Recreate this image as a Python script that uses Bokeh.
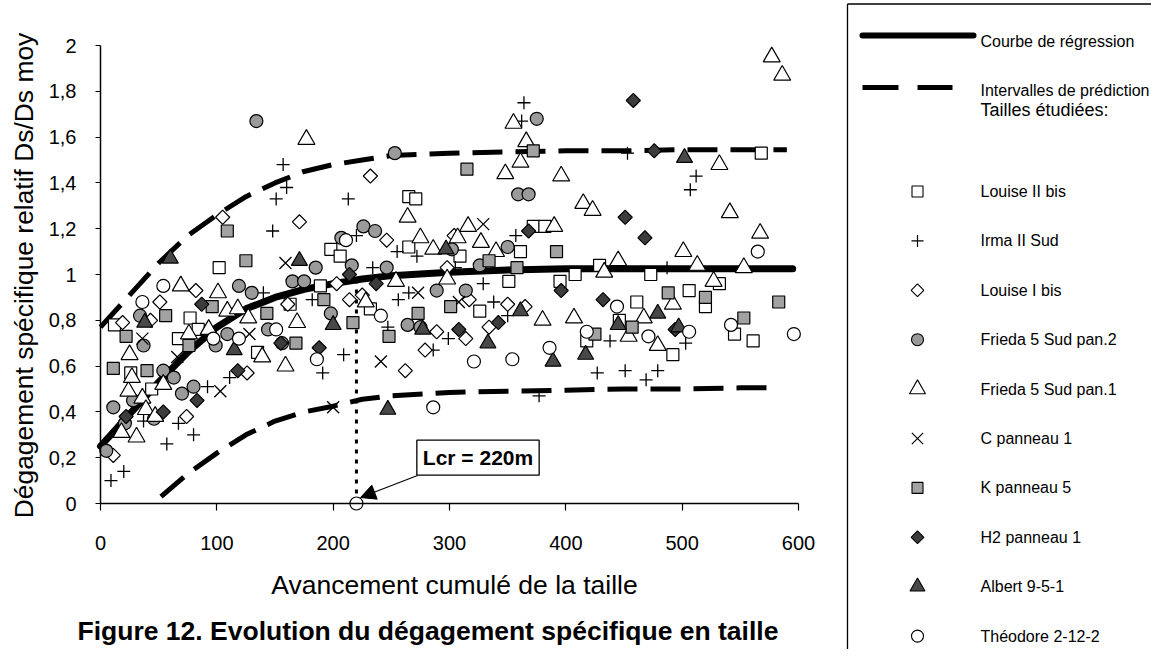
import math
from bokeh.plotting import figure
from bokeh.models import (Range1d, FixedTicker, CustomJSTickFormatter, Label, Arrow, NormalHead)
from bokeh.embed import file_html
from bokeh.resources import INLINE
from bokeh.core.properties import value

FONT = "Liberation Sans"

# ---------------- data ----------------
x_ticks = [0, 100, 200, 300, 400, 500, 600]
y_ticks = [0, 0.2, 0.4, 0.6, 0.8, 1.0, 1.2, 1.4, 1.6, 1.8, 2.0]

reg_x = [0, 25, 50, 75, 100, 125, 150, 175, 200, 225, 250, 300, 350, 400, 450, 500, 550, 595]
reg_y = [0.25, 0.39, 0.53, 0.66, 0.77, 0.85, 0.90, 0.935, 0.96, 0.98, 0.995, 1.01, 1.02, 1.025, 1.025, 1.025, 1.025, 1.025]

up_x = [0, 25, 50, 75, 100, 125, 150, 175, 200, 225, 250, 300, 350, 400, 450, 500, 550, 590]
up_y = [0.77, 0.91, 1.05, 1.17, 1.26, 1.34, 1.40, 1.45, 1.48, 1.50, 1.52, 1.53, 1.535, 1.54, 1.54, 1.545, 1.545, 1.545]

low_x = [52, 75, 100, 125, 150, 175, 200, 225, 250, 300, 350, 400, 450, 500, 550, 577]
low_y = [0.03, 0.13, 0.22, 0.30, 0.36, 0.40, 0.425, 0.455, 0.47, 0.485, 0.49, 0.495, 0.50, 0.50, 0.505, 0.505]

louise2_x = [12, 26, 44, 67, 77, 84, 102, 135, 163, 189, 198, 206, 232, 265, 265, 271, 309, 326, 351, 361,
             372, 382, 395, 408, 418, 429, 446, 461, 473, 492, 506, 520, 532, 545, 561, 568]
louise2_y = [0.78, 0.57, 0.50, 0.72, 0.81, 0.76, 1.03, 0.66, 0.87, 0.95, 1.11, 1.08, 0.85, 1.34, 1.12, 1.33, 1.08, 0.84, 0.97, 1.10,
             1.21, 1.21, 0.97, 1.00, 0.71, 1.04, 0.80, 0.88, 1.00, 0.65, 0.93, 0.86, 0.96, 0.74, 0.71, 1.53]

irma_x = [9, 20, 37, 57, 67, 80, 92, 111, 140, 148, 151, 157, 160, 182, 191, 209, 213, 220, 234, 247,
          255, 256, 265, 272, 286, 299, 305, 329, 338, 350, 357, 362, 364, 377, 427, 438, 451, 453, 469, 479,
          487, 503, 507, 512]
irma_y = [0.10, 0.14, 0.36, 0.26, 0.35, 0.30, 0.51, 0.55, 0.92, 1.19, 1.33, 1.48, 1.38, 0.89, 0.57, 0.65, 1.33, 1.17, 1.03, 0.77,
          1.10, 0.89, 0.92, 1.08, 0.67, 0.72, 1.03, 0.96, 0.88, 0.82, 1.17, 1.67, 1.75, 0.47, 0.57, 0.71, 0.58, 1.53, 0.54, 0.58,
          1.03, 0.70, 1.37, 1.43]

louise1_x = [11, 19, 43, 51, 74, 82, 105, 126, 161, 171, 203, 214, 225, 232, 246, 262, 279, 289, 298, 304,
             314, 317, 334, 350, 365]
louise1_y = [0.21, 0.79, 0.80, 0.88, 0.38, 0.93, 1.25, 0.57, 0.87, 1.23, 0.96, 0.89, 0.91, 1.43, 1.15, 0.58, 0.67, 0.75, 1.03, 1.17,
             0.72, 0.89, 0.77, 0.87, 0.86]

frieda2_x = [5, 11, 21, 28, 34, 37, 46, 54, 63, 70, 80, 99, 109, 119, 130, 134, 144, 156, 165, 175,
             185, 198, 207, 216, 226, 236, 246, 253, 264, 275, 289, 302, 314, 326, 350, 359, 368, 375]
frieda2_y = [0.23, 0.42, 0.35, 0.45, 0.82, 0.69, 0.37, 0.58, 0.55, 0.48, 0.51, 0.69, 0.74, 0.95, 0.92, 1.67, 0.76, 0.70, 0.97, 0.97,
             1.03, 0.83, 1.16, 1.04, 1.21, 1.19, 1.03, 1.53, 0.78, 0.77, 0.93, 1.11, 0.93, 1.04, 1.12, 1.35, 1.35, 1.68]

frieda1_x = [18, 24, 25, 27, 31, 36, 39, 47, 54, 69, 76, 93, 101, 109, 118, 127, 139, 159, 169, 177,
             228, 254, 264, 275, 286, 298, 307, 316, 327, 340, 348, 355, 361, 366, 380, 390, 396, 407, 415, 423,
             433, 445, 454, 467, 479, 492, 501, 513, 527, 532, 541, 553, 567, 577, 586]
frieda1_y = [0.31, 0.49, 0.65, 0.55, 0.29, 0.46, 0.41, 0.38, 0.52, 0.95, 0.74, 0.76, 0.92, 0.84, 0.85, 0.81, 0.64, 0.60, 0.79, 1.59,
             0.88, 0.97, 1.25, 1.16, 1.11, 0.98, 1.16, 1.21, 1.14, 1.10, 1.44, 1.66, 1.49, 1.58, 0.80, 1.21, 1.43, 0.81, 1.31, 1.28,
             1.01, 1.06, 0.73, 0.81, 0.69, 0.87, 1.10, 1.04, 0.97, 1.48, 1.27, 1.03, 1.18, 1.95, 1.87]

cpan_x = [36, 66, 103, 128, 159, 200, 241, 273, 308, 329]
cpan_y = [0.72, 0.64, 0.49, 0.74, 1.05, 0.42, 0.62, 0.92, 0.88, 1.22]

kpan_x = [11, 22, 40, 56, 76, 96, 109, 125, 143, 168, 192, 217, 248, 273, 301, 315, 334, 358, 372, 392,
          425, 457, 488, 520, 553, 583]
kpan_y = [0.59, 0.73, 0.58, 0.82, 0.69, 0.86, 1.19, 1.06, 0.83, 0.70, 0.89, 0.79, 0.73, 0.83, 0.86, 1.46, 1.06, 1.03, 1.54, 1.10,
          0.74, 0.77, 0.92, 0.90, 0.81, 0.88]

h2_x = [22, 54, 83, 87, 118, 155, 188, 214, 237, 308, 342, 368, 396, 432, 451, 458, 468, 476, 494]
h2_y = [0.38, 0.40, 0.45, 0.87, 0.58, 0.70, 0.68, 1.00, 0.96, 0.76, 0.79, 1.19, 0.93, 0.89, 1.25, 1.76, 1.16, 1.54, 0.76]

albert_x = [38, 60, 115, 171, 200, 247, 277, 297, 333, 361, 389, 417, 445, 479, 497, 502]
albert_y = [0.79, 1.07, 0.67, 1.06, 0.78, 0.41, 0.76, 1.11, 0.70, 0.84, 0.62, 0.65, 0.78, 0.83, 0.77, 1.51]

theodore_x = [36, 54, 97, 119, 151, 186, 211, 241, 286, 321, 354, 386, 418, 444, 471, 506, 542, 565, 596]
theodore_y = [0.88, 0.95, 0.72, 0.72, 0.76, 0.63, 1.15, 0.82, 0.42, 0.62, 0.63, 0.68, 0.75, 0.86, 0.73, 0.75, 0.78, 1.10, 0.74]

lcr_x = 220
lcr_y = 0.0
lcr_top = 0.97
lcr_text = "Lcr = 220m"
lcr_label_x = 324.5
lcr_label_y = 0.20
arrow_start = (272.5, 0.122)
arrow_end = (223.5, 0.026)

x_title = "Avancement cumulé de la taille"
y_title = "Dégagement spécifique relatif Ds/Ds moy"
caption = "Figure 12. Evolution du dégagement spécifique en taille"
legend_lines = ["Courbe de régression", "Intervalles de prédiction"]
legend_heading = "Tailles étudiées:"

series = [
    # name, xs, ys, marker, size, fill, angle
    ("Louise II bis", louise2_x, louise2_y, "square", 12, "white", 0.0),
    ("Irma II Sud", irma_x, irma_y, "cross", 13, None, 0.0),
    ("Louise I bis", louise1_x, louise1_y, "square", 10, "white", math.pi / 4),
    ("Frieda 5 Sud pan.2", frieda2_x, frieda2_y, "circle", 13, "#9a9a9a", 0.0),
    ("Frieda 5 Sud pan.1", frieda1_x, frieda1_y, "triangle", 17, "white", 0.0),
    ("C panneau 1", cpan_x, cpan_y, "x", 17, None, 0.0),
    ("K panneau 5", kpan_x, kpan_y, "square", 12, "#a2a2a2", 0.0),
    ("H2 panneau 1", h2_x, h2_y, "square", 10, "#3c3c3c", math.pi / 4),
    ("Albert 9-5-1", albert_x, albert_y, "triangle", 16, "#484848", 0.0),
    ("Théodore 2-12-2", theodore_x, theodore_y, "circle", 13, "white", 0.0),
]

# ---------------- geometry: figure pixels <-> data ----------------
W, H = 1151, 649
X0_PX, Y0_PX = 100, 503   # pixel position of data (0, 0)
PX_X = 698.0 / 600        # pixels per x unit
PX_Y = 458.0 / 2          # pixels per y unit


def fx(px):
    return (px - X0_PX) / PX_X


def fy(py):
    return (Y0_PX - py) / PX_Y


p = figure(width=W, height=H,
           x_range=Range1d(fx(0), fx(W)), y_range=Range1d(fy(H), fy(0)),
           output_backend="svg", toolbar_location=None, min_border=0)
p.xgrid.visible = False
p.ygrid.visible = False
p.outline_line_color = None
p.background_fill_color = "white"
p.border_fill_color = "white"

xa = p.xaxis[0]
xa.ticker = FixedTicker(ticks=x_ticks)
xa.bounds = (0, 600)
xa.fixed_location = 0
xa.axis_line_width = 1.5
xa.major_tick_out = 7
xa.major_tick_in = 0
xa.minor_tick_out = 0
xa.minor_tick_in = 0
xa.major_tick_line_width = 1.2
xa.major_label_standoff = 25
xa.major_label_text_font = FONT
xa.major_label_text_font_size = "20px"
xa.major_label_text_color = "black"

ya = p.yaxis[0]
ya.ticker = FixedTicker(ticks=y_ticks)
ya.formatter = CustomJSTickFormatter(code="return (Math.round(tick*10)/10).toString().replace('.', ',');")
ya.bounds = (0, 2)
ya.fixed_location = 0
ya.axis_line_width = 1.5
ya.major_tick_out = 5
ya.major_tick_in = 0
ya.minor_tick_out = 0
ya.minor_tick_in = 0
ya.major_tick_line_width = 1.2
ya.major_label_standoff = 19
ya.major_label_text_font = FONT
ya.major_label_text_font_size = "20px"
ya.major_label_text_color = "black"

# axis titles and caption
p.text([fx(454)], [fy(584)], text=[x_title], text_font=value(FONT), text_font_size="26.5px",
       text_align="center", text_baseline="middle", text_color="black")
p.text([fx(23)], [fy(275)], text=[y_title], text_font=value(FONT), text_font_size="26.4px",
       text_align="center", text_baseline="middle", angle=math.pi / 2, text_color="black")
p.text([fx(77)], [fy(630)], text=[caption], text_font=value(FONT), text_font_size="26.5px",
       text_font_style="bold", text_align="left", text_baseline="middle", text_color="black")

# curves
p.line(reg_x, reg_y, line_color="black", line_width=7, line_cap="round")
p.line(up_x, up_y, line_color="black", line_width=5, line_dash="30 13")
p.line(low_x, low_y, line_color="black", line_width=5, line_dash="30 13")
p.line([lcr_x, lcr_x], [lcr_y, lcr_top], line_color="black", line_width=3, line_dash="4 6")

# scatter series
for name, xs, ys, mk, sz, fill, ang in series:
    if fill is None:
        p.scatter(xs, ys, marker=mk, size=sz, line_color="black", line_width=1.3)
    else:
        p.scatter(xs, ys, marker=mk, size=sz, angle=ang, fill_color=fill,
                  line_color="black", line_width=1.2)

p.scatter([lcr_x], [lcr_y], marker="circle", size=13, fill_color="white", line_color="black", line_width=1.2)

p.add_layout(Arrow(end=NormalHead(size=15, fill_color="black", line_color="black", line_width=1),
                   x_start=arrow_start[0], y_start=arrow_start[1],
                   x_end=arrow_end[0], y_end=arrow_end[1],
                   line_color="black", line_width=1.2))
p.add_layout(Label(x=lcr_label_x, y=lcr_label_y, text=lcr_text, text_align="center", text_baseline="middle",
                   text_font=FONT, text_font_size="21px", text_font_style="bold", text_color="black",
                   border_line_color="black", border_line_width=1.3, background_fill_color="white",
                   padding=6))

# ---------------- legend box (right) ----------------
p.line([fx(847), fx(847)], [fy(3.5), fy(H)], line_color="black", line_width=1.3)
p.line([fx(847), fx(W)], [fy(3.5), fy(3.5)], line_color="black", line_width=1.3)

p.line([fx(862), fx(973)], [fy(35), fy(35)], line_color="black", line_width=6, line_cap="round")
p.line([fx(862), fx(898)], [fy(87), fy(87)], line_color="black", line_width=5)
p.line([fx(917), fx(952)], [fy(87), fy(87)], line_color="black", line_width=5)
p.text([fx(980), fx(980)], [fy(41), fy(90)], text=legend_lines,
       text_font=value(FONT), text_font_size="16px", text_baseline="middle", text_color="black")
p.text([fx(980)], [fy(109)], text=[legend_heading], text_font=value(FONT), text_font_size="18px",
       text_baseline="middle", text_color="black")

for i, (name, xs, ys, mk, sz, fill, ang) in enumerate(series):
    yy = fy(191 + i * 49.4)
    if fill is None:
        p.scatter([fx(917)], [yy], marker=mk, size=sz - 1, line_color="black", line_width=1.2)
    else:
        p.scatter([fx(917)], [yy], marker=mk, size=sz - 1, angle=ang, fill_color=fill,
                  line_color="black", line_width=1.1)
    p.text([fx(980)], [yy], text=[name], text_font=value(FONT), text_font_size="16px",
           text_baseline="middle", text_color="black")

open("out.html", "w").write(file_html(p, INLINE))
